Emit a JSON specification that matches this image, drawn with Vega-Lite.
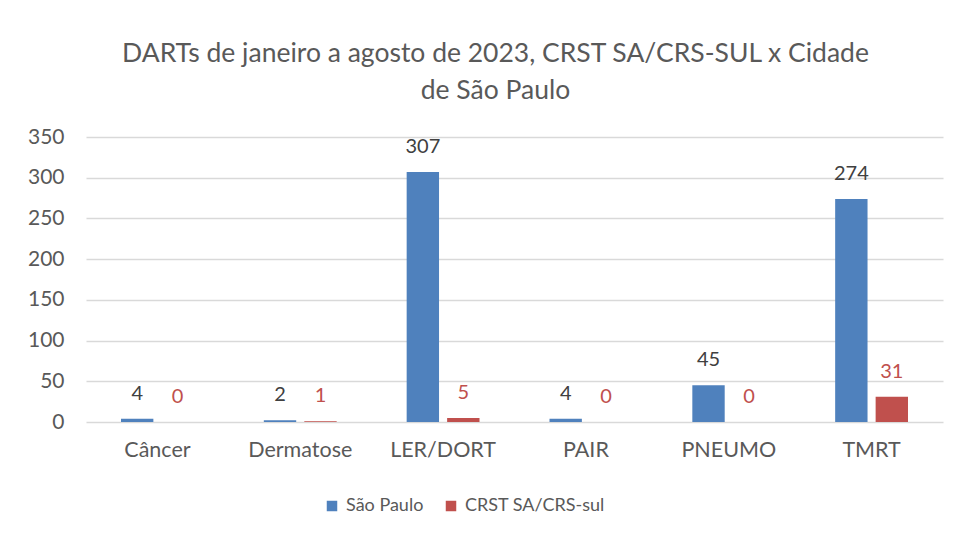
{
  "$schema": "https://vega.github.io/schema/vega-lite/v6.json",
  "autosize": "none",
  "width": 857,
  "height": 285,
  "padding": {"left": 86, "top": 137, "right": 18, "bottom": 113},
  "background": "white",
  "config": {
    "font": "Lato",
    "view": {"stroke": null}
  },
  "title": {
    "text": ["DARTs de janeiro a agosto de 2023, CRST SA/CRS-SUL x Cidade", "de São Paulo"],
    "anchor": "middle",
    "dx": -19,
    "offset": 22,
    "fontSize": 26.5,
    "fontWeight": "normal",
    "color": "#595959",
    "lineHeight": 37,
    "font": "Lato"
  },
  "data": {
    "values": [
      {"categoria": "Câncer", "serie": "São Paulo", "valor": 4},
      {"categoria": "Câncer", "serie": "CRST SA/CRS-sul", "valor": 0},
      {"categoria": "Dermatose", "serie": "São Paulo", "valor": 2},
      {"categoria": "Dermatose", "serie": "CRST SA/CRS-sul", "valor": 1},
      {"categoria": "LER/DORT", "serie": "São Paulo", "valor": 307},
      {"categoria": "LER/DORT", "serie": "CRST SA/CRS-sul", "valor": 5},
      {"categoria": "PAIR", "serie": "São Paulo", "valor": 4},
      {"categoria": "PAIR", "serie": "CRST SA/CRS-sul", "valor": 0},
      {"categoria": "PNEUMO", "serie": "São Paulo", "valor": 45},
      {"categoria": "PNEUMO", "serie": "CRST SA/CRS-sul", "valor": 0},
      {"categoria": "TMRT", "serie": "São Paulo", "valor": 274},
      {"categoria": "TMRT", "serie": "CRST SA/CRS-sul", "valor": 31}
    ]
  },
  "encoding": {
    "x": {
      "field": "categoria",
      "type": "nominal",
      "sort": null,
      "scale": {"paddingInner": 0.49, "paddingOuter": 0.245},
      "axis": {
        "title": null,
        "labelAngle": 0,
        "domain": false,
        "ticks": false,
        "labelFontSize": 21.5,
        "labelColor": "#595959",
        "labelPadding": 17
      }
    },
    "xOffset": {
      "field": "serie",
      "type": "nominal",
      "sort": ["São Paulo", "CRST SA/CRS-sul"],
      "scale": {"paddingInner": 0.2, "paddingOuter": 0}
    },
    "y": {
      "field": "valor",
      "type": "quantitative",
      "scale": {"domain": [0, 350], "nice": false},
      "axis": {
        "title": null,
        "values": [0, 50, 100, 150, 200, 250, 300, 350],
        "domain": false,
        "ticks": false,
        "labelFontSize": 21,
        "labelColor": "#595959",
        "labelPadding": 22,
        "gridColor": "#D9D9D9",
        "gridWidth": 1.5
      }
    }
  },
  "layer": [
    {
      "mark": {"type": "bar"},
      "encoding": {
        "color": {
          "field": "serie",
          "type": "nominal",
          "sort": ["São Paulo", "CRST SA/CRS-sul"],
          "scale": {"domain": ["São Paulo", "CRST SA/CRS-sul"], "range": ["#4F81BD", "#C0504D"]},
          "legend": {
            "title": null,
            "orient": "none",
            "direction": "horizontal",
            "legendX": 237,
            "legendY": 360,
            "symbolType": "square",
            "symbolSize": 110,
            "symbolStrokeWidth": 0,
            "labelFontSize": 18,
            "labelColor": "#595959",
            "labelOffset": 5,
            "columnPadding": 18
          }
        }
      }
    },
    {
      "mark": {"type": "text", "baseline": "bottom", "dy": -15, "fontSize": 20},
      "encoding": {
        "text": {"field": "valor", "type": "quantitative"},
        "color": {
          "condition": {"test": "datum.serie === 'São Paulo'", "value": "#404040"},
          "value": "#C0504D"
        }
      }
    }
  ]
}
